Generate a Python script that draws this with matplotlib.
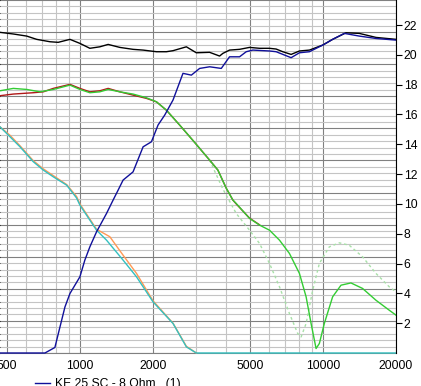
import matplotlib
matplotlib.use("Agg")
import matplotlib.pyplot as plt
from matplotlib.lines import Line2D
from matplotlib.ticker import MultipleLocator, FixedLocator, NullFormatter

plt.rcParams['font.family'] = ['Liberation Sans', 'DejaVu Sans']

# frequency (Hz) / value pairs
black_f = [469, 532, 604, 664, 753, 814, 910, 1000, 1099, 1208, 1307, 1460, 1655, 1820,
           2066, 2270, 2417, 2743, 3014, 3419, 3758, 3877, 4130, 4541, 4990, 5486, 6030,
           6424, 6839, 7402, 8008, 8803, 10000, 10970, 12450, 14120, 16540, 20000]
black_v = [21.51, 21.40, 21.26, 21.04, 20.88, 20.84, 21.04, 20.77, 20.44, 20.54, 20.70, 20.50,
           20.37, 20.32, 20.21, 20.21, 20.28, 20.54, 20.14, 20.17, 19.92, 20.10, 20.32, 20.37,
           20.50, 20.44, 20.44, 20.39, 20.21, 20.03, 20.26, 20.32, 20.66, 21.04, 21.48, 21.44,
           21.17, 21.04]

blue_f = [469, 718, 789, 828, 868, 910, 1000, 1048, 1099, 1171, 1287, 1370, 1437, 1506, 1655,
          1820, 1970, 2097, 2234, 2417, 2656, 2876, 3110, 3419, 3819, 4130, 4541, 4837, 5148,
          6030, 6424, 7402, 8008, 8803, 10000, 10970, 12250, 14120, 16540, 20000]
blue_v = [0, 0, 0.37, 1.75, 3.09, 3.99, 5.11, 6.23, 7.12, 8.13, 9.36, 10.26, 10.93, 11.60, 12.15,
          13.83, 14.17, 15.29, 15.96, 16.97, 18.76, 18.64, 19.09, 19.20, 19.09, 19.87, 19.87,
          20.21, 20.32, 20.26, 20.21, 19.81, 20.14, 20.21, 20.66, 21.04, 21.44, 21.26, 21.10,
          20.99]

red_f = [469, 532, 643, 707, 777, 910, 1000, 1099, 1208, 1307, 1460, 1655, 1879, 2066, 2270,
         2574, 2919, 3419, 3698, 4004, 4262, 4400, 4990, 5486]
red_v = [17.26, 17.37, 17.46, 17.52, 17.75, 18.02, 17.75, 17.52, 17.59, 17.75, 17.52, 17.30,
         17.08, 16.85, 16.29, 15.29, 14.26, 12.94, 12.27, 11.05, 10.26, 10.00, 9.05, 8.60]

green_f = [469, 532, 604, 685, 777, 910, 1000, 1099, 1208, 1307, 1460, 1655, 1879, 2066, 2270,
           2574, 2919, 3419, 3698, 4004, 4262, 4400, 4990, 5486, 6030, 6629, 7284, 8008, 8532,
           8944, 9377, 9675, 10140, 10970, 11880, 13050, 14570, 16540, 18760, 20000]
green_v = [17.59, 17.75, 17.68, 17.52, 17.68, 17.97, 17.68, 17.46, 17.52, 17.68, 17.52, 17.37,
           17.12, 16.85, 16.29, 15.29, 14.26, 12.94, 12.27, 11.05, 10.26, 10.03, 9.03, 8.58,
           8.24, 7.57, 6.68, 5.34, 3.77, 1.98, 0.30, 0.64, 1.98, 3.77, 4.55, 4.70, 4.33, 3.54,
           2.87, 2.54]

dotted_f = [3419, 3877, 4400, 4990, 5486, 6030, 6629, 7284, 7880, 8138, 8532, 9081, 9675,
            10630, 11690, 12840, 14570, 16540, 18760, 20000]
dotted_v = [12.94, 11.0, 9.36, 8.24, 7.35, 6.01, 4.44, 2.65, 1.31, 1.08, 1.98, 4.21, 6.01,
            7.12, 7.39, 7.23, 6.45, 5.34, 4.44, 4.10]

orange_f = [469, 516, 567, 643, 707, 777, 882, 969, 1000, 1171, 1328, 1506, 1710, 2000, 2417,
            2743, 3014]
orange_v = [15.17, 14.6, 13.9, 12.9, 12.35, 11.9, 11.3, 10.5, 10.0, 8.3, 7.8, 6.56, 5.34, 3.5,
            2.0, 0.45, 0]

cyan_f = [469, 516, 567, 643, 707, 777, 882, 969, 1000, 1171, 1287, 1506, 1710, 2000, 2417,
          2743, 3014, 20000]
cyan_v = [15.17, 14.50, 13.83, 12.83, 12.27, 11.82, 11.26, 10.40, 9.92, 8.24, 7.57, 6.23,
          5.11, 3.43, 1.98, 0.41, 0, 0]

x_major = [500, 1000, 2000, 5000, 10000, 20000]
x_minor = [600, 700, 800, 900, 3000, 4000, 6000, 7000, 8000, 9000]
y_ticks = [2, 4, 6, 8, 10, 12, 14, 16, 18, 20, 22]

W, H = 421, 386
fig = plt.figure(figsize=(W / 100, H / 100), dpi=100)
rect = [0, 33 / H, 396 / W, 353 / H]

# background grid on its own (hidden) left scale
ax_grid = fig.add_axes(rect)
ax_grid.set_xscale('log')
ax_grid.set_xlim(469, 20000)
ax_grid.set_ylim(0, 55)
ax_grid.yaxis.set_major_locator(MultipleLocator(5))
ax_grid.yaxis.set_minor_locator(MultipleLocator(1))
ax_grid.xaxis.set_major_locator(FixedLocator(x_major))
ax_grid.xaxis.set_minor_locator(FixedLocator(x_minor))
ax_grid.xaxis.set_major_formatter(plt.FuncFormatter(lambda v, p: "%d" % v))
ax_grid.xaxis.set_minor_formatter(NullFormatter())
ax_grid.grid(which='major', color='#808080', lw=0.8)
ax_grid.grid(which='minor', color='#c4c4c4', lw=0.8)
ax_grid.tick_params(axis='y', which='both', left=False, labelleft=False)
ax_grid.tick_params(axis='x', which='both', length=0, pad=5, labelsize=8.7)
for s in ['left', 'top', 'right']:
    ax_grid.spines[s].set_visible(False)
ax_grid.spines['bottom'].set_color('#808080')

ax = ax_grid.twinx()
ax.set_ylim(0, 23.68)
ax.set_yticks(y_ticks)
ax.tick_params(axis='y', length=4, width=0.8, pad=1.5, labelsize=8.7)
for s in ['left', 'top', 'bottom']:
    ax.spines[s].set_visible(False)
ax.spines['right'].set_linewidth(0.8)

kw = dict(lw=1.0, clip_on=False)
ax.plot(black_f, black_v, color='black', **kw)
ax.plot(orange_f, orange_v, color='#ff9955', **kw)
ax.plot(cyan_f, cyan_v, color='#33c0c0', **kw)
ax.plot(dotted_f, dotted_v, color='#a8e0a8', ls=(0, (2, 2)), **kw)
ax.plot(red_f, red_v, color='#b01818', **kw)
ax.plot(green_f, green_v, color='#33cc33', **kw)
ax.plot(blue_f, blue_v, color='#10109a', **kw)

# legend entry at the bottom
fig.add_artist(Line2D([35 / W, 50 / W], [(H - 383) / H] * 2, color='#10109a', lw=1.0))
fig.text(55 / W, (H - 387) / H, "KE 25 SC - 8 Ohm   (1)", fontsize=8.7, va='baseline')

fig.savefig("out.png", dpi=100)
